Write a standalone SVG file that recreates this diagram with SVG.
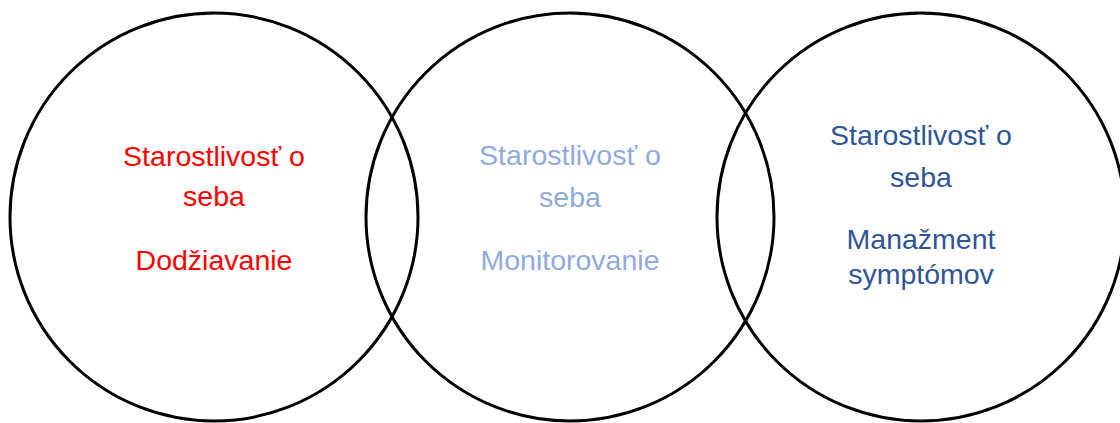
<svg xmlns="http://www.w3.org/2000/svg" width="1120" height="423" viewBox="0 0 1120 423">
<style>
  .c { fill: none; stroke: #000; stroke-width: 3; }
  text { font-family: "Liberation Sans", Arial, sans-serif; font-size: 28.5px; text-anchor: middle; }
  .red { fill: #FF0000; }
  .light { fill: #8FAADC; }
  .dark { fill: #2F5597; }
</style>
<rect width="1120" height="423" fill="#fff"/>
<g id="node-left">
  <circle class="c" cx="214" cy="217" r="204"/>
  <text class="red" x="214" y="166">Starostlivosť o</text>
  <text class="red" x="214" y="206">seba</text>
  <text class="red" x="214" y="270">Dodžiavanie</text>
</g>
<g id="node-middle">
  <circle class="c" cx="570" cy="217" r="204"/>
  <text class="light" x="570" y="165">Starostlivosť o</text>
  <text class="light" x="570" y="207">seba</text>
  <text class="light" x="570" y="270">Monitorovanie</text>
</g>
<g id="node-right">
  <circle class="c" cx="921" cy="217" r="204"/>
  <text class="dark" x="921" y="145">Starostlivosť o</text>
  <text class="dark" x="921" y="187">seba</text>
  <text class="dark" x="921" y="249">Manažment</text>
  <text class="dark" x="921" y="284">symptómov</text>
</g>
<g id="connectors"></g>
</svg>
